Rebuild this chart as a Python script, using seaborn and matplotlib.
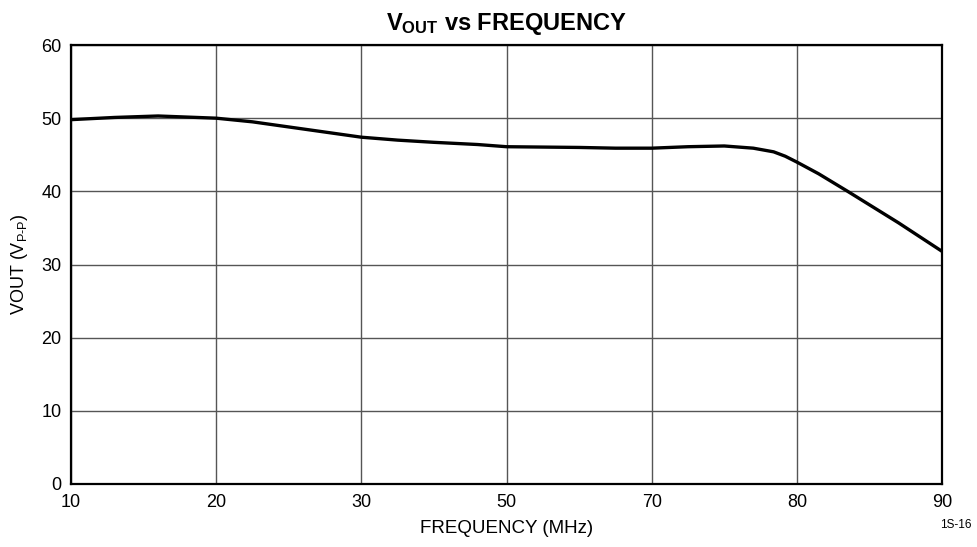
import numpy as np
import pandas as pd
import matplotlib
matplotlib.use("Agg")
import matplotlib.pyplot as plt
import seaborn as sns

# frequency (MHz) and output swing (Vp-p)
freq_mhz = [10, 13, 16, 20, 22.5, 25, 30, 35, 40, 46, 50, 60, 65, 70, 72.5, 75, 77, 78.4, 79.2, 80, 81.5, 83.5, 87, 90]
vout_vpp = [49.8, 50.1, 50.3, 50.0, 49.5, 48.8, 47.4, 47.0, 46.7, 46.4, 46.1, 46.0, 45.9, 45.9, 46.1, 46.2, 45.9, 45.4, 44.8, 44.0, 42.4, 40.0, 35.7, 31.8]

tick_freqs = [10, 20, 30, 50, 70, 80, 90]
y_ticks = [0, 10, 20, 30, 40, 50, 60]

df = pd.DataFrame({"freq": freq_mhz, "vout": vout_vpp})

sns.set_style("white")
plt.rcParams["font.family"] = ["Liberation Sans", "DejaVu Sans"]
plt.rcParams["mathtext.fontset"] = "custom"
plt.rcParams["mathtext.rm"] = "Liberation Sans"
plt.rcParams["mathtext.bf"] = "Liberation Sans:bold"
plt.rcParams["text.color"] = "black"
plt.rcParams["axes.labelcolor"] = "black"
plt.rcParams["xtick.color"] = "black"
plt.rcParams["ytick.color"] = "black"

# the frequency axis is spaced evenly by tick, not linearly
tick_pos = np.arange(len(tick_freqs))

def fwd(f):
    return np.interp(f, tick_freqs, tick_pos)

def inv(p):
    return np.interp(p, tick_pos, tick_freqs)

fig = plt.figure(figsize=(9.77, 5.47), dpi=100)
ax = fig.add_axes([0.0727, 0.1152, 0.8915, 0.8025])
ax.set_xscale("function", functions=(fwd, inv))

sns.lineplot(data=df, x="freq", y="vout", ax=ax, color="black", linewidth=2.4)

ax.set_xlim(10, 90)
ax.set_ylim(0, 60)
ax.set_xticks(tick_freqs)
ax.set_xticklabels([str(t) for t in tick_freqs])
ax.set_yticks(y_ticks)
ax.minorticks_off()
ax.grid(True, color="#555555", linewidth=1.0)
ax.tick_params(axis="both", length=0, labelsize=13, pad=7)
for s in ax.spines.values():
    s.set_color("black")
    s.set_linewidth(1.6)

ax.set_xlabel("FREQUENCY (MHz)", fontsize=13.5, labelpad=7)
ax.set_ylabel(r"VOUT (V$_{\mathrm{P\text{-}P}}$)", fontsize=13, labelpad=8)
ax.set_title(r"$\mathbf{V_{OUT}}$ vs FREQUENCY", fontsize=17, fontweight="bold", pad=11)

fig.text(0.994, 0.040, "1S-16", fontsize=8.5, ha="right", va="center")

fig.savefig("out.png", dpi=100)
